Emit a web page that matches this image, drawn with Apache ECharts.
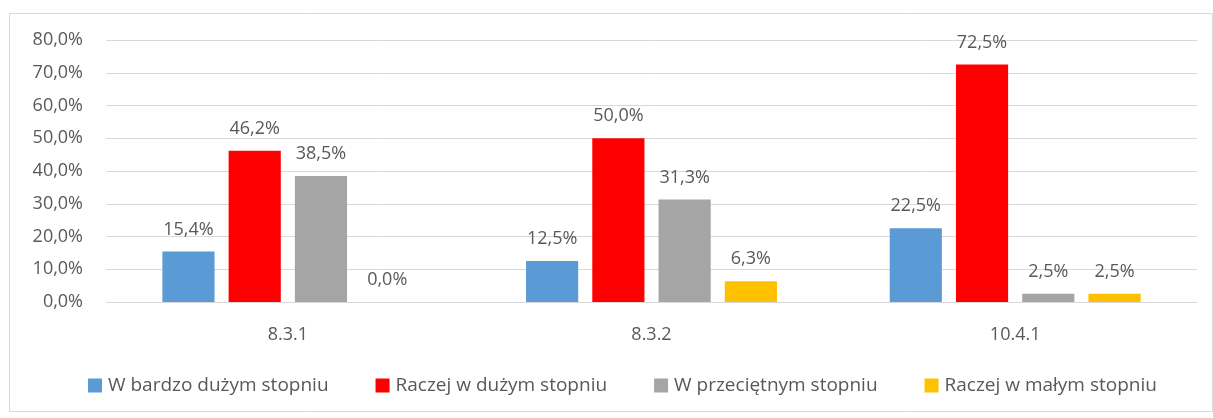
<!DOCTYPE html>
<html>
<head>
<meta charset="utf-8">
<script src="https://cdn.jsdelivr.net/npm/echarts@6/dist/echarts.min.js"></script>
<style>
  html, body { margin: 0; padding: 0; background: #fff; }
  #chart { width: 1213px; height: 418px; }
</style>
</head>
<body>
<div id="chart"></div>
<script>
var categories = ['8.3.1', '8.3.2', '10.4.1']
var seriesNames = ['W bardzo dużym stopniu', 'Raczej w dużym stopniu', 'W przeciętnym stopniu', 'Raczej w małym stopniu']
var seriesColors = ['#5b9bd5', '#ff0000', '#a5a5a5', '#ffc000']
var bardzoDuzym = [15.4, 12.5, 22.5]
var raczejDuzym = [46.2, 50.0, 72.5]
var przecietnym = [38.5, 31.3, 2.5]
var raczejMalym = [0.0, 6.3, 2.5]
var seriesValues = [bardzoDuzym, raczejDuzym, przecietnym, raczejMalym]

var fontFamily = '"Open Sans", "Noto Sans", sans-serif'
var textColor = '#595959'

function pct (v) {
  return v.toFixed(1).replace('.', ',') + '%'
}

var graph = echarts.init(document.getElementById('chart'))
var option = {
  animation: false,
  textStyle: { fontFamily: fontFamily },
  graphic: [
    {
      type: 'rect',
      left: 7,
      top: 11,
      shape: { width: 1203, height: 398 },
      style: { fill: 'none', stroke: '#d9d9d9', lineWidth: 1 },
      silent: true
    }
  ],
  grid: {
    left: 106,
    right: 16,
    top: 40,
    bottom: 116
  },
  legend: {
    top: 371,
    left: 83,
    icon: 'rect',
    itemWidth: 14,
    itemHeight: 14,
    itemGap: 47,
    textStyle: { color: textColor, fontSize: 19, fontFamily: fontFamily, padding: [0, 0, 0, 1] },
    data: seriesNames
  },
  xAxis: {
    type: 'category',
    data: categories,
    axisLine: { lineStyle: { color: '#d9d9d9' } },
    axisTick: { show: false },
    axisLabel: { color: textColor, fontSize: 18, margin: 24 }
  },
  yAxis: {
    type: 'value',
    min: 0,
    max: 80,
    interval: 10,
    axisLine: { show: false },
    axisTick: { show: false },
    splitLine: { lineStyle: { color: '#d9d9d9' } },
    axisLabel: {
      color: textColor,
      fontSize: 18,
      margin: 23,
      formatter: function (v) { return pct(v) }
    }
  },
  series: seriesNames.map(function (name, i) {
    return {
      name: name,
      type: 'bar',
      data: seriesValues[i],
      barGap: '27%',
      barCategoryGap: '31%',
      itemStyle: { color: seriesColors[i] },
      label: {
        show: true,
        position: 'top',
        distance: 13,
        color: textColor,
        fontSize: 18,
        formatter: function (p) { return pct(p.value) }
      }
    }
  })
}
graph.setOption(option)
</script>
</body>
</html>
